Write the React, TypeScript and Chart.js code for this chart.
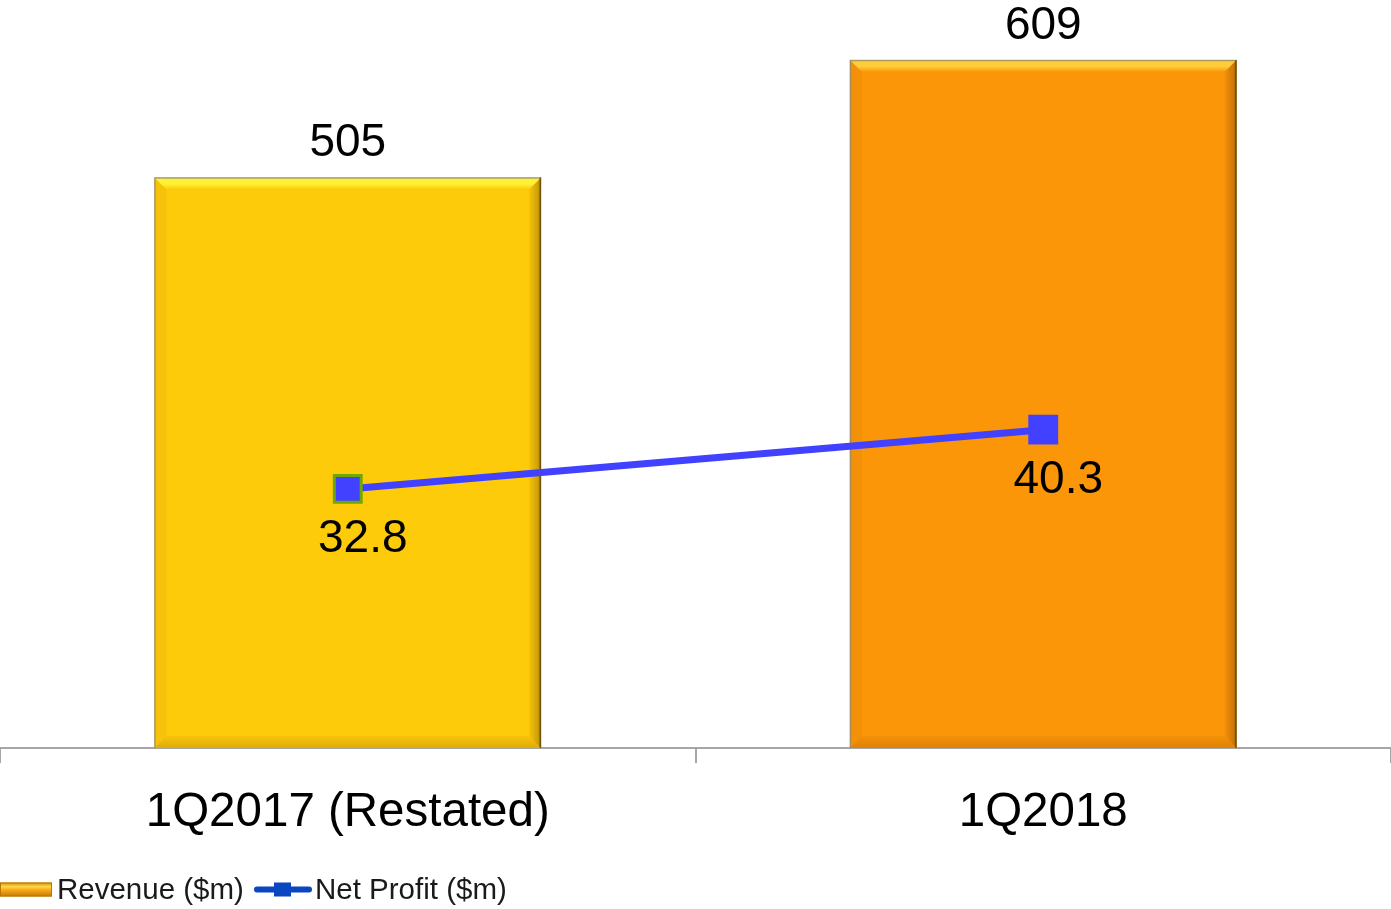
import React, { useEffect, useRef } from "react";
import { Chart, registerables } from "chart.js";

Chart.register(...registerables);

// Quarterly results: revenue bars with net profit line on a second axis
const categories = ["1Q2017 (Restated)", "1Q2018"];
const revenue = [505, 609];
const netProfit = [32.8, 40.3];
const seriesNames = ["Revenue ($m)", "Net Profit ($m)"];

const FONT = "'Liberation Sans', Arial, Helvetica, sans-serif";
const barFill = ["#FDCB0A", "#FA9608"];
const barTopFacet = ["#FFF236", "#FFCC3A"];
const lineBlue = "#4141FF";

// Bevelled look on top of the flat bars
const bevelPlugin = {
  id: "bevel",
  afterDatasetDraw(chart: any, args: any) {
    if (args.index !== 0) return;
    const ctx: CanvasRenderingContext2D = chart.ctx;
    args.meta.data.forEach((el: any, i: number) => {
      const p = el.getProps(["x", "y", "base", "width"], true);
      const l = p.x - p.width / 2;
      const r = p.x + p.width / 2;
      const t = Math.min(p.y, p.base);
      const b = Math.max(p.y, p.base);
      const d = 12;
      ctx.save();
      // top facet
      let g = ctx.createLinearGradient(0, t, 0, t + d);
      g.addColorStop(0, barTopFacet[i]);
      g.addColorStop(0.55, barTopFacet[i]);
      g.addColorStop(1, barFill[i]);
      ctx.fillStyle = g;
      ctx.beginPath();
      ctx.moveTo(l, t);
      ctx.lineTo(r, t);
      ctx.lineTo(r - d, t + d);
      ctx.lineTo(l + d, t + d);
      ctx.closePath();
      ctx.fill();
      // right facet
      g = ctx.createLinearGradient(r, 0, r - d, 0);
      g.addColorStop(0, "rgba(60,30,0,0.55)");
      g.addColorStop(0.25, "rgba(60,30,0,0.25)");
      g.addColorStop(1, "rgba(60,30,0,0.04)");
      ctx.fillStyle = g;
      ctx.beginPath();
      ctx.moveTo(r, t);
      ctx.lineTo(r, b);
      ctx.lineTo(r - d, b - d);
      ctx.lineTo(r - d, t + d);
      ctx.closePath();
      ctx.fill();
      // bottom facet
      g = ctx.createLinearGradient(0, b, 0, b - d);
      g.addColorStop(0, "rgba(120,60,0,0.22)");
      g.addColorStop(1, "rgba(120,60,0,0.05)");
      ctx.fillStyle = g;
      ctx.beginPath();
      ctx.moveTo(l, b);
      ctx.lineTo(r, b);
      ctx.lineTo(r - d, b - d);
      ctx.lineTo(l + d, b - d);
      ctx.closePath();
      ctx.fill();
      // left facet
      ctx.fillStyle = "rgba(120,70,0,0.06)";
      ctx.beginPath();
      ctx.moveTo(l, t);
      ctx.lineTo(l + d, t + d);
      ctx.lineTo(l + d, b - d);
      ctx.lineTo(l, b);
      ctx.closePath();
      ctx.fill();
      // outline
      ctx.lineWidth = 1.5;
      ctx.strokeStyle = "rgba(150,140,110,0.8)";
      ctx.beginPath();
      ctx.moveTo(l + 0.5, b);
      ctx.lineTo(l + 0.5, t + 0.5);
      ctx.lineTo(r, t + 0.5);
      ctx.stroke();
      ctx.strokeStyle = "rgba(110,80,10,0.9)";
      ctx.beginPath();
      ctx.moveTo(r - 0.75, t);
      ctx.lineTo(r - 0.75, b);
      ctx.stroke();
      ctx.restore();
    });
  },
};

// Value labels: above each bar, below each line point
const valueLabelPlugin = {
  id: "valueLabels",
  afterDatasetsDraw(chart: any) {
    const ctx: CanvasRenderingContext2D = chart.ctx;
    ctx.save();
    ctx.font = `46px ${FONT}`;
    ctx.fillStyle = "#000000";
    ctx.textAlign = "center";
    ctx.textBaseline = "alphabetic";
    chart.getDatasetMeta(0).data.forEach((el: any, i: number) => {
      ctx.fillText(String(revenue[i]), el.x, el.y - 21);
    });
    chart.getDatasetMeta(1).data.forEach((el: any, i: number) => {
      ctx.fillText(netProfit[i].toFixed(1), el.x + 15, el.y + 63);
    });
    ctx.restore();
  },
};

// Legend along the bottom-left edge
const legendPlugin = {
  id: "bottomLegend",
  afterDraw(chart: any) {
    const ctx: CanvasRenderingContext2D = chart.ctx;
    const cy = 889.5;
    ctx.save();
    // revenue swatch
    const g = ctx.createLinearGradient(0, cy - 7, 0, cy + 7);
    g.addColorStop(0, "#D98C00");
    g.addColorStop(0.3, "#FFD84A");
    g.addColorStop(0.55, "#F5A818");
    g.addColorStop(1, "#C47A00");
    ctx.fillStyle = g;
    ctx.fillRect(0, cy - 7, 52, 14);
    ctx.strokeStyle = "#B87800";
    ctx.lineWidth = 1;
    ctx.strokeRect(0.5, cy - 6.5, 51, 13);
    ctx.font = `29.5px ${FONT}`;
    ctx.fillStyle = "#1A1A1A";
    ctx.textAlign = "left";
    ctx.textBaseline = "middle";
    ctx.fillText(chart.data.datasets[0].label, 57, cy + 1);
    // net profit line with marker
    ctx.strokeStyle = "#0A46C0";
    ctx.lineWidth = 6;
    ctx.lineCap = "round";
    ctx.beginPath();
    ctx.moveTo(257, cy);
    ctx.lineTo(309, cy);
    ctx.stroke();
    ctx.fillStyle = "#0A46C0";
    ctx.fillRect(274, cy - 7, 17, 14);
    ctx.fillStyle = "#1A1A1A";
    ctx.fillText(chart.data.datasets[1].label, 315, cy + 1);
    ctx.restore();
  },
};

export default function App() {
  const canvasRef = useRef<HTMLCanvasElement | null>(null);

  useEffect(() => {
    if (!canvasRef.current) return;
    const chart = new Chart(canvasRef.current, {
      type: "bar",
      data: {
        labels: categories,
        datasets: [
          {
            type: "bar",
            label: seriesNames[0],
            data: revenue,
            backgroundColor: barFill,
            borderWidth: 0,
            categoryPercentage: 1,
            barPercentage: 0.556,
            yAxisID: "y",
            order: 1,
          },
          {
            type: "line",
            label: seriesNames[1],
            data: netProfit,
            borderColor: lineBlue,
            borderWidth: 7,
            backgroundColor: lineBlue,
            pointStyle: "rect",
            pointRadius: 19,
            pointBorderWidth: 3,
            pointBorderColor: ["#6FA800", lineBlue],
            pointBackgroundColor: lineBlue,
            yAxisID: "y1",
            order: 0,
          },
        ],
      },
      options: {
        animation: false,
        responsive: true,
        maintainAspectRatio: false,
        layout: { padding: 0, autoPadding: false },
        plugins: {
          legend: { display: false },
          tooltip: { enabled: false },
        },
        scales: {
          x: {
            offset: true,
            grid: {
              offset: true,
              drawOnChartArea: false,
              drawTicks: true,
              tickLength: 15,
              color: "#A6A6A6",
              lineWidth: 2,
            },
            border: { display: true, color: "#A6A6A6", width: 2 },
            ticks: {
              color: "#000000",
              padding: 21,
              font: { family: FONT, size: 47.5 },
              maxRotation: 0,
              autoSkip: false,
            },
            afterFit: (scale: any) => {
              scale.height = 161;
            },
          },
          y: {
            display: false,
            min: 0,
            max: 662,
          },
          y1: {
            display: false,
            position: "right",
            min: 0,
            max: 94.7,
          },
        },
      },
      plugins: [bevelPlugin, valueLabelPlugin, legendPlugin],
    });
    return () => chart.destroy();
  }, []);

  return (
    <div style={{ position: "fixed", left: 0, top: 0, width: 1391, height: 909, background: "#FFFFFF" }}>
      <canvas ref={canvasRef} />
    </div>
  );
}
